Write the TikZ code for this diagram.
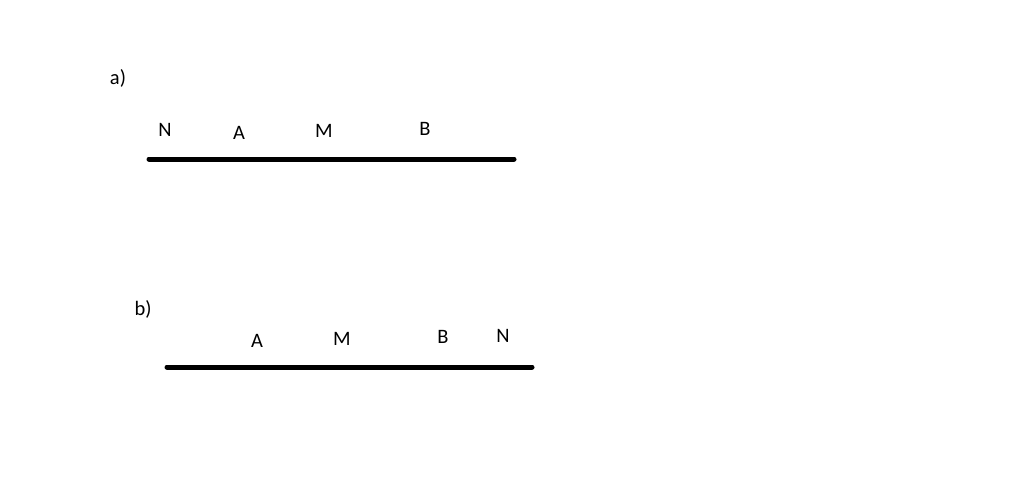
\documentclass[tikz,border=0pt]{standalone}
\usepackage{fontspec}
\setmainfont{Carlito}
\begin{document}
\begin{tikzpicture}[x=1pt,y=-1pt,
  lbl/.style={inner sep=0pt,font=\fontsize{20.5}{24}\selectfont},
  seg/.style={line width=5pt,line cap=round}]
\useasboundingbox (0,0) rectangle (1024,482);
% a)
\node[lbl] (la) at (118,78) {a)};
\node[lbl] (aN) at (165,130) {N};
\node[lbl] (aA) at (239,133) {A};
\node[lbl] (aM) at (324,131) {M};
\node[lbl] (aB) at (425,129) {B};
\coordinate (a1) at (149,159);
\coordinate (a2) at (514,159);
\draw[seg] (a1) -- (a2);
% b)
\node[lbl] (lb) at (143,309) {b)};
\node[lbl] (bA) at (257,341) {A};
\node[lbl] (bM) at (342,339) {M};
\node[lbl] (bB) at (443,337) {B};
\node[lbl] (bN) at (503,336) {N};
\coordinate (b1) at (167,367);
\coordinate (b2) at (532,367);
\draw[seg] (b1) -- (b2);
\end{tikzpicture}
\end{document}
